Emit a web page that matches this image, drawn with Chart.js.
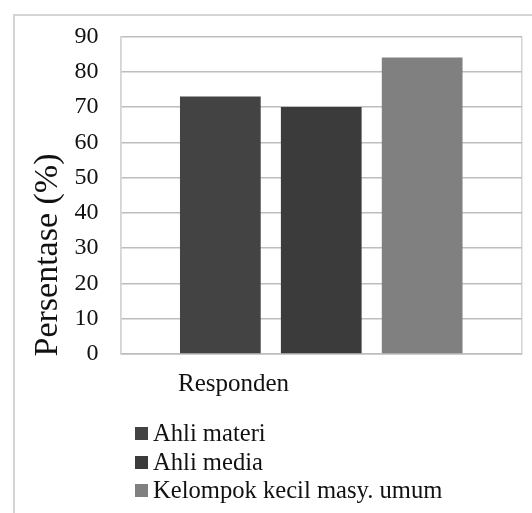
<!DOCTYPE html>
<html>
<head>
<meta charset="utf-8">
<script src="https://cdn.jsdelivr.net/npm/chart.js@4"></script>
<style>
  body { margin: 0; background: #fff; }
  #wrap { position: relative; width: 532px; height: 513px; overflow: hidden; }
  #frame { position: absolute; left: 13px; top: 14px; width: 560px; height: 560px;
           border-left: 2px solid #d4d4d4; border-top: 2px solid #d4d4d4; }
  #chart { position: absolute; left: 0; top: 0; }
  #legend { position: absolute; left: 135px; top: 419px; font-family: "Liberation Serif", serif;
            font-size: 24.6px; color: #111; }
  #legend div { height: 28.5px; line-height: 28.5px; white-space: nowrap; }
  #legend span.box { display: inline-block; width: 13px; height: 13px; margin-right: 5px; vertical-align: 1px; }
</style>
</head>
<body>
<div id="wrap">
  <div id="frame"></div>
  <canvas id="chart" width="532" height="513"></canvas>
  <div id="legend"></div>
</div>
<script>
// data
var categories = ['Responden'];
var seriesNames = ['Ahli materi', 'Ahli media', 'Kelompok kecil masy. umum'];
var seriesValues = [[73], [70], [84]];
var seriesColors = ['#434343', '#3b3b3b', '#808080'];
var yTicks = [0, 10, 20, 30, 40, 50, 60, 70, 80, 90];
var yTitle = 'Persentase (%)';

var serif = '"Liberation Serif", "Times New Roman", serif';

// axis titles drawn next to the plot
var titlesPlugin = {
  id: 'titles',
  afterDraw: function (chart) {
    var ctx = chart.ctx;
    var area = chart.chartArea;
    ctx.save();
    ctx.fillStyle = '#111';
    ctx.font = '25px ' + serif;
    ctx.textAlign = 'center';
    ctx.textBaseline = 'middle';
    ctx.fillText(categories[0], area.left + 113, area.bottom + 30);
    ctx.translate(48, area.bottom - 99);
    ctx.rotate(-Math.PI / 2);
    ctx.font = '34px ' + serif;
    ctx.fillText(yTitle, 0, 0);
    ctx.restore();
  }
};

var chart = new Chart(document.getElementById('chart'), {
  type: 'bar',
  data: {
    labels: categories,
    datasets: seriesNames.map(function (name, i) {
      return {
        label: name,
        data: seriesValues[i],
        backgroundColor: seriesColors[i],
        categoryPercentage: 0.754,
        barPercentage: 0.8
      };
    })
  },
  options: {
    responsive: false,
    animation: false,
    layout: { padding: { left: 0, right: 10, top: 36, bottom: 159 } },
    plugins: { legend: { display: false }, tooltip: { enabled: false } },
    scales: {
      x: {
        ticks: { display: false },
        grid: { color: '#d4d4d4', lineWidth: 1.5, drawTicks: false },
        border: { color: '#bdbdbd', width: 1.5 }
      },
      y: {
        min: 0,
        max: 90,
        afterBuildTicks: function (scale) {
          scale.ticks = yTicks.map(function (v) { return { value: v }; });
        },
        afterFit: function (scale) { scale.width = 120.5; },
        ticks: { font: { family: serif, size: 24 }, color: '#111', padding: 22 },
        grid: { color: '#bdbdbd', lineWidth: 1.5, drawTicks: false },
        border: { color: '#d4d4d4', width: 1.5 }
      }
    }
  },
  plugins: [titlesPlugin]
});

// vertical legend under the chart
var legend = document.getElementById('legend');
chart.data.datasets.forEach(function (ds) {
  var row = document.createElement('div');
  var box = document.createElement('span');
  box.className = 'box';
  box.style.background = ds.backgroundColor;
  row.appendChild(box);
  row.appendChild(document.createTextNode(ds.label));
  legend.appendChild(row);
});
</script>
</body>
</html>
